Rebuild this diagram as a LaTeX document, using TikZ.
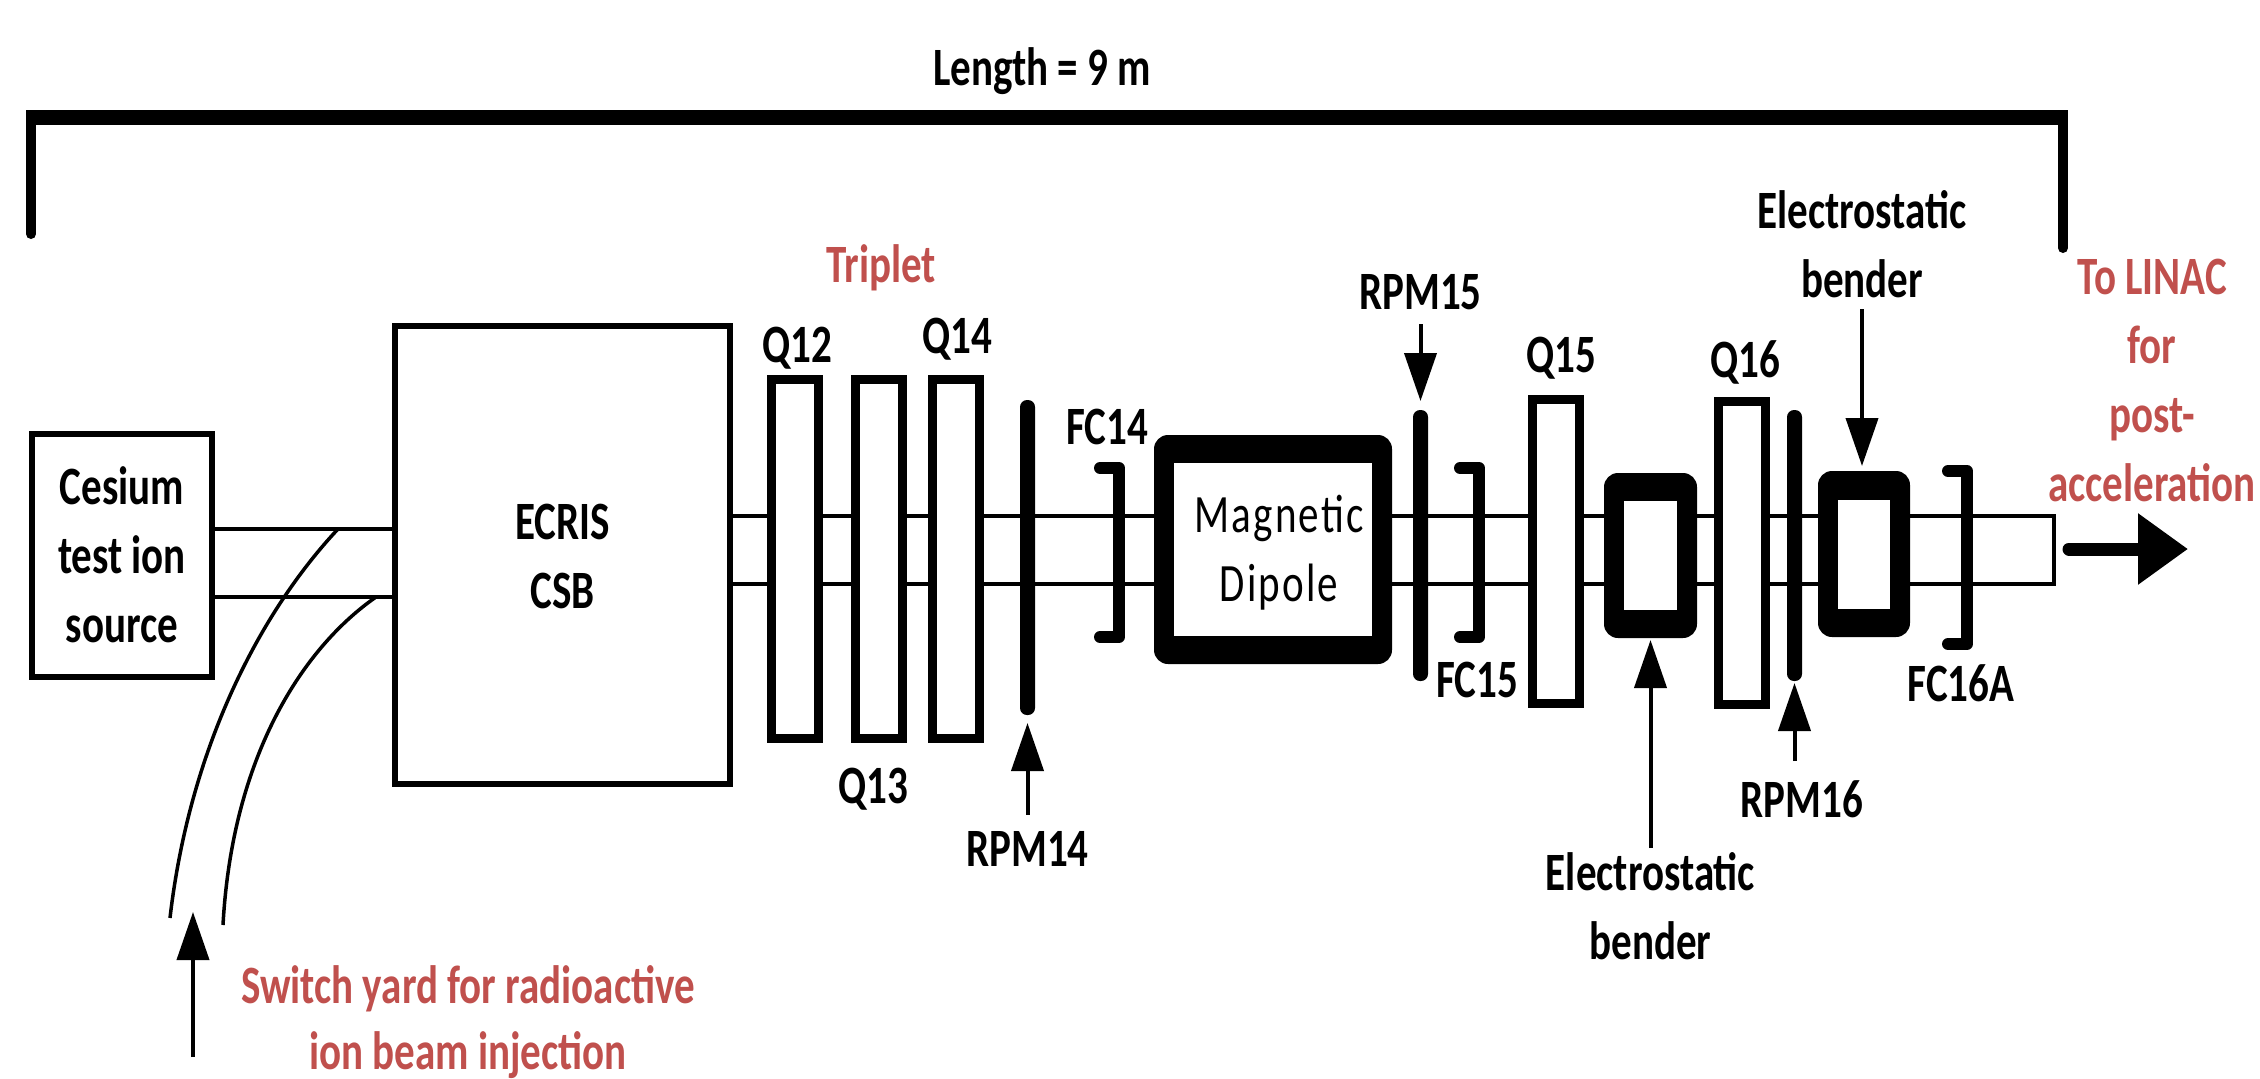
\documentclass[tikz,border=0pt]{standalone}
\usepackage{fontspec}
\setmainfont{Carlito}[FakeStretch=0.76]
\usetikzlibrary{positioning,arrows.meta}
\definecolor{redlab}{HTML}{C0504D}
\tikzset{>={Triangle[length=48pt,width=32pt]}}
\tikzset{
  txt/.style={font=\fontsize{54}{69}\selectfont\bfseries, inner sep=0pt, outer sep=0pt, align=center},
  lab/.style={txt, text height=35pt, text depth=0pt},
  box/.style={draw, line width=6pt, fill=white, inner sep=0pt, outer sep=0pt},
  quad/.style={box, line width=9pt, minimum width=47pt, minimum height=359pt},
  rpmplate/.style={fill=black, rounded corners=7pt, inner sep=0pt, outer sep=0pt, minimum width=15pt},
  magnet/.style={fill=black, rounded corners=14pt, inner sep=0pt, outer sep=0pt},
  hole/.style={fill=white, inner sep=0pt, outer sep=0pt},
  beam/.style={line width=4pt},
  yard/.style={line width=3.5pt},
  fcup/.style={line width=12pt, line cap=round, line join=round},
  pointer/.style={->, line width=4pt}
}

\begin{document}
\begin{tikzpicture}[x=1pt, y=-1pt]
  \useasboundingbox (0,0) rectangle (2260,1079);

  % Nodes
  \node[box, minimum width=335pt, minimum height=458pt] (ecris) at (562.5,555) {};
  \node[box, left=183pt of ecris, minimum width=180pt, minimum height=243pt] (cesium) {};

  % Beam
  \draw[beam] ([yshift=26pt]cesium.east) -- ([yshift=26pt]ecris.west);
  \draw[beam] ([yshift=-42pt]cesium.east) -- ([yshift=-42pt]ecris.west);
  \draw[beam] ([yshift=39pt]ecris.east) -- ++(1324,0) -- ++(0,68) -- ([yshift=-29pt]ecris.east);

  % Switch yard
  \coordinate (yardA) at (338,529);
  \coordinate (yardB) at (170,918);
  \coordinate (yardC) at (376,597);
  \coordinate (yardD) at (223,925);
  \draw[yard] (yardA) .. controls (262,610) and (190,745) .. (yardB);
  \draw[yard] (yardC) .. controls (300,650) and (232,760) .. (yardD);

  % Elements
  \node[quad] (q12) at (795,559) {};
  \node[quad, right=36.5pt of q12] (q13) {};
  \node[quad, right=30pt of q13] (q14) {};
  \node[rpmplate, minimum height=315pt] (rpm14) at (1027.5,557.5) {};
  \node[magnet, minimum width=238pt, minimum height=229pt] (dipole) at (1273,549.5) {};
  \node[hole, minimum width=198pt, minimum height=173pt] (dipolein) at (dipole.center) {};
  \node[rpmplate, minimum height=271pt] (rpm15) at (1420.5,545.5) {};
  \node[quad, minimum height=304pt] (q15) at (1555.5,551.5) {};
  \node[magnet, minimum width=93pt, minimum height=165pt] (bend1) at (1650.5,555.5) {};
  \node[hole, minimum width=53pt, minimum height=109pt] (bend1in) at (bend1.center) {};
  \node[quad, minimum height=303pt] (q16) at (1741.5,553) {};
  \node[rpmplate, minimum height=271pt] (rpm16) at (1794.5,545.5) {};
  \node[magnet, minimum width=92pt, minimum height=166pt] (bend2) at (1864,554) {};
  \node[hole, minimum width=52pt, minimum height=109pt] (bend2in) at (bend2.center) {};

  % Faraday cups
  \foreach \x/\ya/\yb in {1119/468/637, 1479/468/637, 1967/471/644}
    \draw[fcup] (\x-19,\ya) -- (\x,\ya) -- (\x,\yb) -- (\x-19,\yb);

  % Length bar
  \coordinate (barA) at (31,234);
  \coordinate (barB) at (31,117.5);
  \coordinate (barC) at (2063,117.5);
  \coordinate (barD) at (2063,248);
  \draw[line width=14.5pt] ([xshift=-5pt]barB) -- ([xshift=5pt]barC);
  \draw[line width=10pt, line cap=round] (barA) -- (barB);
  \draw[line width=10pt, line cap=round] (barC) -- (barD);

  % Labels
  \node[txt] (cesiumlab) at (cesium.center) {Cesium\\test ion\\source};
  \node[txt] (ecrislab) at ([yshift=-1pt]ecris.center) {ECRIS\\CSB};
  \node[txt, font=\fontsize{54}{69}\selectfont\addfontfeature{LetterSpace=4}] (dipolelab) at ([xshift=6pt,yshift=-3pt]dipole.center) {Magnetic\\Dipole};
  \node[lab, above=17.5pt of q12, xshift=2pt] (q12lab) {Q12};
  \node[lab, below=29.5pt of q13, xshift=-5pt] (q13lab) {Q13};
  \node[lab, above=26.5pt of q14, xshift=2pt] (q14lab) {Q14};
  \node[lab, above=27pt of q15, xshift=6pt] (q15lab) {Q15};
  \node[lab, above=24.5pt of q16, xshift=3.5pt] (q16lab) {Q16};
  \node[lab, below=116.5pt of rpm14] (rpm14lab) {RPM14};
  \node[lab, above=101pt of rpm15] (rpm15lab) {RPM15};
  \node[lab, below=101pt of rpm16, xshift=7.5pt] (rpm16lab) {RPM16};
  \node[lab] (fc14lab) at (1107,427) {FC14};
  \node[lab] (fc15lab) at (1477,680) {FC15};
  \node[lab] (fc16lab) at (1961,684) {FC16A};
  \node[lab] (lengthlab) at (1042,68) {Length = 9 m};
  \node[txt, below=215pt of bend1] (bendlabA) {Electrostatic\\bender};
  \node[txt, above=173pt of bend2, xshift=-2pt] (bendlabB) {Electrostatic\\bender};
  \node[lab, text=redlab, above=97.5pt of q13, xshift=2.5pt] (tripletlab) {Triplet};
  \node[txt, text=redlab, anchor=south] (yardlab) at (468,1078.5) {Switch yard for radioactive\\[-3pt]ion beam injection};
  \node[txt, text=redlab] (linaclab) at (2152,380) {To LINAC\\for\\post-\\acceleration};

  % Edges
  \draw[pointer, shorten >=8pt, shorten <=17pt] (rpm14lab.north) -- (rpm14.south);
  \draw[pointer, shorten >=9pt, shorten <=15pt] (rpm15lab.south) -- (rpm15.north);
  \draw[pointer, shorten >=2pt, shorten <=21pt] (rpm16lab.north -| rpm16.south) -- (rpm16.south);
  \draw[pointer, shorten >=2pt, shorten <=5pt] (bendlabA.north) -- (bend1.south);
  \draw[pointer, shorten >=5pt, shorten <=11pt] (bendlabB.south) -- (bendlabB.south |- bend2.north);
  \coordinate (yardtail) at (193,1057);
  \coordinate (yardtip) at (193,912);
  \draw[pointer] (yardtail) -- (yardtip);
  \coordinate (outtail) at (2069,549);
  \coordinate (outtip) at (2188,549);
  \draw[line width=13pt, line cap=round, -{Triangle[length=50pt,width=68pt]}] (outtail) -- (outtip);

\end{tikzpicture}
\end{document}
